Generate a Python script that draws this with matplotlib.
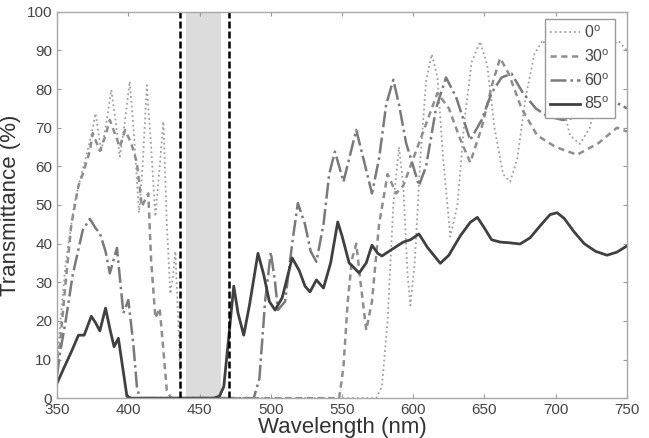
import numpy as np
import matplotlib
matplotlib.use("Agg")
import matplotlib.pyplot as plt

plt.rcParams['font.family'] = ['Liberation Sans', 'DejaVu Sans']
plt.rcParams['mathtext.fontset'] = 'custom'
plt.rcParams['mathtext.rm'] = 'Liberation Sans'

# wavelength (nm) / transmittance (%)
wl0 = [350, 352, 356, 362, 366, 370, 374, 377, 381, 384, 388, 391, 394, 397, 401, 404, 407.5, 410, 413, 416,
       419, 422, 424.6, 427, 429.5, 431.5, 433, 435, 437, 440, 574, 578, 582, 586, 590, 593, 596, 598, 601, 605,
       609, 613, 617, 621, 626, 631, 636, 641, 647, 652, 657, 663, 668, 673, 679, 685, 691, 697, 703, 710,
       717, 724, 731, 738, 744, 750]
t0 = [8, 18.5, 35, 50, 56.5, 62, 68, 73.7, 63.8, 70, 79.8, 72, 62.5, 70, 82, 68, 48, 60, 81, 65,
      47, 60, 71.6, 45, 27, 32, 38, 20, 0, 0, 0, 3, 20, 50, 65, 55, 32, 24, 35, 62,
      82, 89, 83, 62, 41.8, 50, 72, 87, 92.3, 86, 70, 58, 56, 62, 78, 89, 92.7, 88, 79, 68,
      65.8, 70, 82, 91, 92.5, 90]

wl30 = [350, 352, 356, 360, 365, 368, 373, 375, 380, 384, 387, 391, 394, 397.7, 402, 406, 409.5, 414, 416, 419,
        422, 424.6, 427, 430, 548, 551, 554, 557, 560, 563, 567, 571, 576, 582, 588, 593, 600, 608, 617, 625,
        633, 640, 648, 656, 661, 667, 676, 687, 700, 715, 730, 743, 750]
t30 = [10, 14, 30, 45, 55, 58, 64, 68.6, 64, 68, 72, 68, 65, 69.4, 66, 61, 49.6, 53, 35.7, 20.7,
       23.3, 12.4, 2, 0, 0, 8, 25, 36, 40, 30, 17.6, 25, 45, 58, 53, 55, 62, 70, 79, 75,
       67, 61, 70, 82, 88, 84, 75, 68, 65, 63, 66, 70, 69]

wl60 = [350, 352, 356, 361, 368, 373, 377, 380, 384, 387, 392, 396.5, 400, 403.5, 406, 408, 488, 492, 496, 500,
        503, 505, 510, 515, 519, 524, 528, 532, 537, 541, 545, 548, 551, 555, 560, 565, 571, 576, 581, 586,
        590, 595, 600, 604, 609, 616, 623, 630, 640, 648, 655, 662, 669, 677, 686, 694, 705, 718, 730, 740, 750]
t60 = [6, 11.6, 20, 32, 43.5, 46.4, 44, 42.7, 38, 32.3, 38.9, 22, 25.4, 14, 3, 0, 0, 5, 25, 37.8,
       30, 22.8, 25, 40, 50.5, 45, 38, 35.3, 45, 58, 63.8, 60, 56, 62, 69.4, 62, 53, 62, 76, 82.4,
       76, 66, 60, 55, 60, 75, 83, 78, 66.8, 72, 79, 83, 84, 79, 75, 73, 72, 73, 75, 77, 75]

wl85 = [350, 355, 360, 365, 369, 374, 377, 380, 384, 387, 390, 393, 396, 399, 402, 460, 464, 467, 470, 474,
        477, 481, 485, 491, 495, 499, 503, 508, 515, 520, 524, 527.5, 532, 537, 542, 547, 550, 555, 562, 567,
        571, 575, 578, 585, 593, 598, 604, 610, 619, 625, 633, 640, 645, 650, 655, 661, 668, 675, 682, 690,
        696, 701, 706, 713, 720, 728, 736, 743, 750]
t85 = [3.9, 8, 12, 16.3, 16.3, 21.2, 19.5, 17.4, 23.3, 18, 13.3, 15.5, 8, 0.5, 0, 0, 0.5, 3, 14, 29,
       22, 16.3, 24, 37.5, 32, 25, 22.8, 26, 36.3, 33, 29, 27.5, 30.6, 28.5, 35, 45.6, 42, 35, 32.4, 35,
       39.6, 37.5, 36.8, 38.5, 40.4, 41, 42.5, 39, 34.9, 37, 42, 45.5, 46.8, 44, 41, 40.4, 40.2, 39.9, 41.5, 45,
       47.5, 48, 46.5, 43, 40, 38, 37, 37.8, 39.4]

labels = ['0$^{\\rm o}$', '30$^{\\rm o}$', '60$^{\\rm o}$', '85$^{\\rm o}$']
band = (440.5, 465)
cut_lines = [436, 471]

fig = plt.figure(figsize=(6.49, 4.38), dpi=100)
ax = fig.add_axes([0.088, 0.091, 0.878, 0.882])

ax.axvspan(band[0], band[1], color='#dcdcdc', lw=0, zorder=0)

ax.plot(wl0, t0, ls=':', color='#a0a0a0', lw=1.3, label=labels[0])
ax.plot(wl30, t30, ls=(0, (2.5, 1.8)), color='#8e8e8e', lw=1.8, label=labels[1])
ax.plot(wl60, t60, ls='-.', color='#7a7a7a', lw=1.8, label=labels[2])
ax.plot(wl85, t85, ls='-', color='#404040', lw=2.0, label=labels[3])

for x in cut_lines:
    ax.axvline(x, color='black', lw=1.8, ls=(0, (2.8, 1.2)))

ax.set_xlim(350, 750)
ax.set_ylim(0, 100)
ax.set_xticks(np.arange(350, 751, 50))
ax.set_yticks(np.arange(0, 101, 10))
ax.tick_params(direction='in', top=True, right=True, labelsize=11, colors='#999999',
               labelcolor='#444444', length=3, width=0.8)
for s in ax.spines.values():
    s.set_color('#a8a8a8')
    s.set_linewidth(1.0)

ax.set_xlabel('Wavelength (nm)', fontsize=16, color='#333333', labelpad=0)
ax.set_ylabel('Transmittance (%)', fontsize=16, color='#333333', labelpad=4)

leg = ax.legend(loc='upper right', bbox_to_anchor=(0.979, 0.982), borderaxespad=0,
                fontsize=11.5, handlelength=1.9, handletextpad=0.2, labelspacing=0.45,
                borderpad=0.35, fancybox=False, framealpha=1)
leg.get_frame().set_edgecolor('#999999')
leg.get_frame().set_linewidth(1.0)
for t in leg.get_texts():
    t.set_color('#444444')

fig.savefig('out.png', dpi=100)
